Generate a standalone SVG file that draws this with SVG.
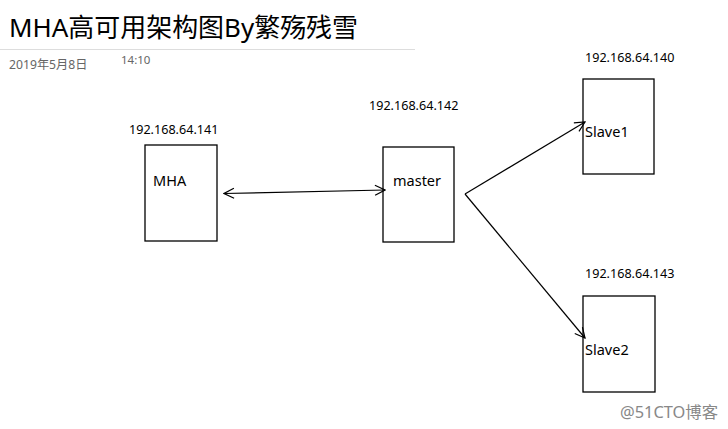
<svg xmlns="http://www.w3.org/2000/svg" width="728" height="429" viewBox="0 0 728 429">
<style>
.box{fill:#fff;stroke:#000;stroke-width:1.3}
.ip{font-family:"Noto Sans","Noto Sans CJK SC",sans-serif;font-size:12.6px;fill:#000}
.lbl{font-family:"Noto Sans","Noto Sans CJK SC",sans-serif;font-size:14.5px;fill:#000}
.conn{fill:none;stroke:#000;stroke-width:1.2}
</style>
<defs>
<marker id="ah" viewBox="0 0 12 12" refX="11" refY="6" markerWidth="12" markerHeight="12" markerUnits="userSpaceOnUse" orient="auto-start-reverse">
<path d="M1,1 L11,6 L1,11" fill="none" stroke="#000" stroke-width="1.2"/>
</marker>
</defs>
<rect width="728" height="429" fill="#fff"/>
<text x="9" y="37" font-family="'Noto Sans','Noto Sans CJK SC',sans-serif" font-size="26" fill="#000" textLength="349" lengthAdjust="spacingAndGlyphs">MHA高可用架构图By繁殇残雪</text>
<line x1="0" y1="49.5" x2="415" y2="49.5" stroke="#ddd" stroke-width="1"/>
<text x="9" y="69" font-family="'Noto Sans','Noto Sans CJK SC',sans-serif" font-size="12.2" fill="#666">2019年5月8日</text>
<text x="121" y="64" font-family="'Noto Sans','Noto Sans CJK SC',sans-serif" font-size="11.5" fill="#666">14:10</text>
<g id="mha">
<rect class="box" x="145" y="145" width="72" height="96"/>
<text class="ip" x="129" y="134">192.168.64.141</text>
<text class="lbl" x="153" y="186">MHA</text>
</g>
<g id="master">
<rect class="box" x="383" y="147" width="71" height="95"/>
<text class="ip" x="369" y="110">192.168.64.142</text>
<text class="lbl" x="393" y="186">master</text>
</g>
<g id="slave1">
<rect class="box" x="583" y="79" width="71" height="95"/>
<text class="ip" x="585" y="62">192.168.64.140</text>
<text class="lbl" x="585" y="137">Slave1</text>
</g>
<g id="slave2">
<rect class="box" x="583" y="296" width="72" height="96"/>
<text class="ip" x="585" y="278">192.168.64.143</text>
<text class="lbl" x="585" y="355">Slave2</text>
</g>
<g id="connectors">
<line class="conn" x1="224" y1="193.5" x2="385" y2="190" marker-start="url(#ah)" marker-end="url(#ah)"/>
<line class="conn" x1="465" y1="194" x2="585" y2="122" marker-end="url(#ah)"/>
<line class="conn" x1="465" y1="194" x2="585" y2="338" marker-end="url(#ah)"/>
</g>
<text x="620" y="418" font-family="'Noto Sans','Noto Sans CJK SC',sans-serif" font-size="16" fill="#888" textLength="98" lengthAdjust="spacingAndGlyphs">@51CTO博客</text>
</svg>
